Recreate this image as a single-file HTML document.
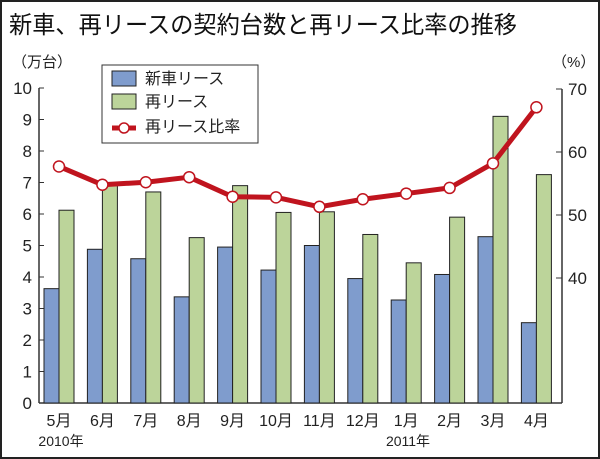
<!DOCTYPE html>
<html><head><meta charset="utf-8"><style>
html,body{margin:0;padding:0;background:#fff}
svg{display:block;font-family:"Liberation Sans","Noto Sans CJK JP",sans-serif}
</style></head><body>
<svg id="c" width="600" height="459" viewBox="0 0 600 459">
<rect x="1" y="1" width="598" height="457" fill="#fff" stroke="#222" stroke-width="2"/>
<text x="9" y="33" font-size="24" fill="#111" textLength="508" lengthAdjust="spacingAndGlyphs" font-family="'Noto Sans CJK JP',sans-serif">新車、再リースの契約台数と再リース比率の推移</text>
<text x="12" y="67" font-size="15" fill="#222">（万台）</text>
<text x="552" y="67" font-size="15" fill="#222">（%）</text>
<g id="axes"></g>
<g id="bars"></g>
<g id="line"></g>
<g>
<rect x="102" y="65" width="156" height="78" fill="#fff" stroke="#333" stroke-width="1"/>
<rect x="112" y="71" width="24" height="15" fill="#7f9ccd" stroke="#222"/>
<text x="145" y="84" font-size="16" fill="#222">新車リース</text>
<rect x="112" y="94" width="24" height="15" fill="#bcd49a" stroke="#222"/>
<text x="145" y="107" font-size="16" fill="#222">再リース</text>
<line x1="112" y1="128" x2="136" y2="128" stroke="#c0141e" stroke-width="5"/>
<circle cx="124" cy="128" r="5" fill="#fff" stroke="#c0141e" stroke-width="1.5"/>
<text x="145" y="132" font-size="16" fill="#222">再リース比率</text>
</g>
</svg>
<script>
const months=["5月","6月","7月","8月","9月","10月","11月","12月","1月","2月","3月","4月"];
const newLease=[3.63,4.88,4.58,3.37,4.95,4.22,5.0,3.95,3.27,4.08,5.28,2.55];
const reLease=[6.12,7.0,6.7,5.25,6.9,6.05,6.07,5.35,4.45,5.9,9.1,7.25];
const ratio=[57.7,54.8,55.2,56.0,52.9,52.8,51.3,52.5,53.4,54.3,58.2,67.1];
const leftTicks=[0,1,2,3,4,5,6,7,8,9,10];
const rightTicks=[40,50,60,70];
const NS="http://www.w3.org/2000/svg";
function mk(t,a,p){const e=document.createElementNS(NS,t);for(const k in a)e.setAttribute(k,a[k]);p.appendChild(e);return e;}
const y0=403,yTop=88;
const yL=v=>y0-(y0-yTop)*v/10;
const yR=v=>278-(278-89)*(v-40)/30;
const gx=i=>44+i*43.4;
const axes=document.getElementById('axes'),bars=document.getElementById('bars'),line=document.getElementById('line');
let e=mk('line',{x1:39,y1:yTop,x2:39,y2:y0,stroke:'#333','stroke-width':1.5},axes);

e=mk('line',{x1:39,y1:y0,x2:562,y2:y0,stroke:'#333','stroke-width':1.5},axes);

e=mk('line',{x1:562,y1:yR(70),x2:562,y2:y0,stroke:'#333','stroke-width':1.5},axes);

leftTicks.forEach(v=>{
 mk('line',{x1:39,y1:yL(v),x2:44,y2:yL(v),stroke:'#333'},axes);
 const t=mk('text',{x:32,y:yL(v)+6,'font-size':17,'text-anchor':'end',fill:'#222'},axes);t.textContent=v;
 
 
});
rightTicks.forEach(v=>{
 mk('line',{x1:556,y1:yR(v),x2:562,y2:yR(v),stroke:'#333'},axes);
 const t=mk('text',{x:568,y:yR(v)+6,'font-size':17,fill:'#222'},axes);t.textContent=v;
 
 
});
months.forEach((m,i)=>{
 const x=gx(i);
 let r=mk('rect',{x:x,y:yL(newLease[i]),width:15,height:y0-yL(newLease[i]),fill:'#7f9ccd',stroke:'#222','stroke-width':1},bars);
 
 
 r=mk('rect',{x:x+15,y:yL(reLease[i]),width:15,height:y0-yL(reLease[i]),fill:'#bcd49a',stroke:'#222','stroke-width':1},bars);
 
 
 const t=mk('text',{x:x+15,y:426,'font-size':16,'text-anchor':'middle',fill:'#222'},axes);t.textContent=m;
 
 
});
let t=mk('text',{x:61,y:446,'font-size':14,'text-anchor':'middle',fill:'#222'},axes);t.textContent='2010年';


t=mk('text',{x:408,y:446,'font-size':14,'text-anchor':'middle',fill:'#222'},axes);t.textContent='2011年';


const pts=ratio.map((v,i)=>(gx(i)+15)+','+yR(v)).join(' ');
const pl=mk('polyline',{points:pts,fill:'none',stroke:'#c0141e','stroke-width':5,'stroke-linejoin':'round'},line);


ratio.forEach((v,i)=>{
 const c=mk('circle',{cx:gx(i)+15,cy:yR(v),r:5.5,fill:'#fff',stroke:'#c0141e','stroke-width':1.5},line);
 
 
});
</script>
</body></html>
